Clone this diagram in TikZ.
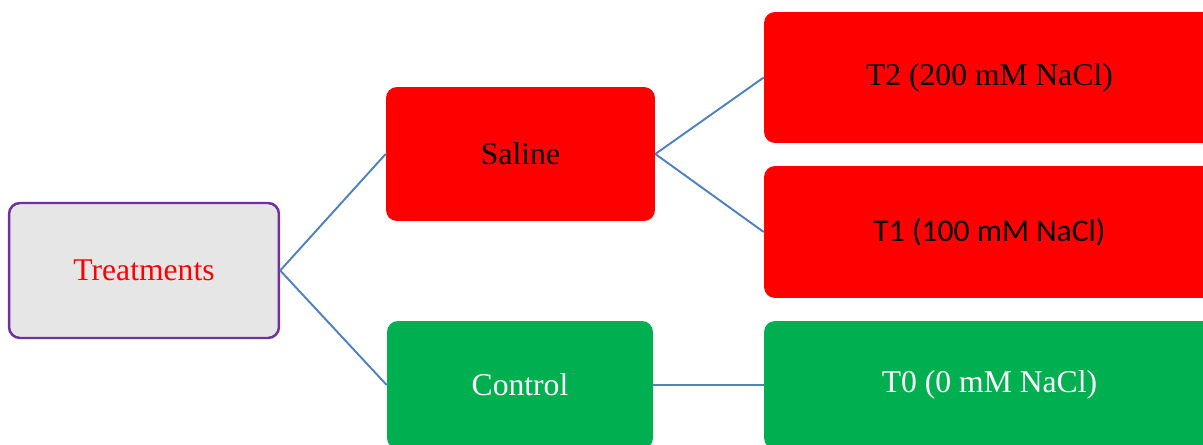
\documentclass[tikz,border=0pt]{standalone}
\usepackage{fontspec}
\setmainfont{Liberation Serif}
\newfontfamily\calibri{Carlito}
\definecolor{linkblue}{RGB}{79,129,189}
\definecolor{boxred}{RGB}{255,0,0}
\definecolor{boxgreen}{RGB}{0,176,80}
\definecolor{boxgray}{RGB}{230,230,230}
\definecolor{boxpurple}{RGB}{112,48,160}
\tikzset{
  box/.style={rectangle, rounded corners=0.22cm, inner sep=0pt, font=\fontsize{18}{21}\selectfont},
  redbox/.style={box, fill=boxred, text=black},
  greenbox/.style={box, fill=boxgreen, text=white},
  link/.style={draw=linkblue, line width=1.1pt}
}
\begin{document}
\begin{tikzpicture}[x=0.02cm,y=-0.02cm]
\useasboundingbox (0,0) rectangle (1203,445);
\clip (0,0) rectangle (1203,445);
\node[box, fill=boxgray, draw=boxpurple, line width=1.4pt, text=boxred, minimum width=5.4cm, minimum height=2.7cm] (treat) at (144,270.5) {Treatments};
\node[redbox, minimum width=5.38cm, minimum height=2.68cm] (saline) at (520.5,154) {Saline};
\node[greenbox, minimum width=5.32cm, minimum height=2.56cm] (control) at (520,385) {Control};
\node[redbox, minimum width=9.02cm, minimum height=2.62cm] (t2) at (989.5,77.5) {T2 (200 mM NaCl)};
\node[redbox, minimum width=9.02cm, minimum height=2.64cm] (t1) at (989.5,232) {\calibri T1 (100 mM NaCl)};
\node[greenbox, minimum width=9.02cm, minimum height=2.56cm] (t0) at (989.5,385) {T0 (0 mM NaCl)};
\draw[link] (treat.east) -- (saline.west);
\draw[link] (treat.east) -- (control.west);
\draw[link] (saline.east) -- (t2.west);
\draw[link] (saline.east) -- (t1.west);
\draw[link] (control.east) -- (t0.west);
\end{tikzpicture}
\end{document}
